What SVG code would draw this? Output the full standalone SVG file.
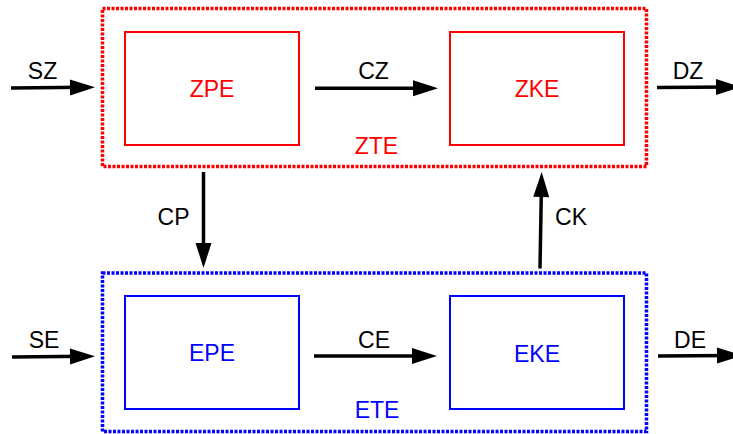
<svg xmlns="http://www.w3.org/2000/svg" width="733" height="434" viewBox="0 0 733 434">
<style>
text{font-family:"Liberation Sans",Arial,sans-serif;font-size:23px;text-anchor:middle}
.lbl{fill:#000}
.red{fill:#ff0000}
.blue{fill:#0000ff}
.rbox{fill:none;stroke:#ff0000;stroke-width:2}
.bbox{fill:none;stroke:#0000ff;stroke-width:2}
.rgrp{fill:none;stroke:#ff0000;stroke-width:3.5;stroke-dasharray:3 1.5}
.bgrp{fill:none;stroke:#0000ff;stroke-width:3.5;stroke-dasharray:3 1.5}
.conn{fill:none;stroke:#000;stroke-width:3.5}
</style>
<defs>
<marker id="ah" markerUnits="userSpaceOnUse" markerWidth="26" markerHeight="16" refX="15" refY="8" orient="auto" overflow="visible">
<path d="M0,0 L25,8 L0,16 z" fill="#000"/>
</marker>
</defs>
<g id="ZTE">
<rect class="rgrp" x="102.5" y="8.5" width="544" height="158"/>
<text class="red" x="376.5" y="153.5">ZTE</text>
</g>
<g id="ETE">
<rect class="bgrp" x="102.5" y="273" width="544" height="158.5"/>
<text class="blue" x="377" y="418">ETE</text>
</g>
<g id="ZPE">
<rect class="rbox" x="125" y="32" width="174" height="113"/>
<text class="red" x="212" y="96.5">ZPE</text>
</g>
<g id="ZKE">
<rect class="rbox" x="450" y="32" width="174" height="113"/>
<text class="red" x="537" y="96.5">ZKE</text>
</g>
<g id="EPE">
<rect class="bbox" x="125" y="296" width="174" height="113"/>
<text class="blue" x="212" y="361">EPE</text>
</g>
<g id="EKE">
<rect class="bbox" x="450" y="296" width="174" height="113"/>
<text class="blue" x="537" y="361.5">EKE</text>
</g>
<g id="connectors">
<line class="conn" x1="11" y1="88" x2="85" y2="87.3" marker-end="url(#ah)"/>
<text class="lbl" x="42.5" y="79">SZ</text>
<line class="conn" x1="315" y1="88.3" x2="428" y2="88.3" marker-end="url(#ah)"/>
<text class="lbl" x="373.5" y="79">CZ</text>
<line class="conn" x1="657" y1="87.5" x2="731" y2="87" marker-end="url(#ah)"/>
<text class="lbl" x="688" y="79">DZ</text>
<line class="conn" x1="203.5" y1="172" x2="203.5" y2="258" marker-end="url(#ah)"/>
<text class="lbl" x="173.5" y="225">CP</text>
<line class="conn" x1="540" y1="268.5" x2="541.5" y2="182" marker-end="url(#ah)"/>
<text class="lbl" x="571" y="225">CK</text>
<line class="conn" x1="12" y1="357" x2="85" y2="356.3" marker-end="url(#ah)"/>
<text class="lbl" x="44" y="348">SE</text>
<line class="conn" x1="314" y1="356" x2="427" y2="356" marker-end="url(#ah)"/>
<text class="lbl" x="374" y="348">CE</text>
<line class="conn" x1="658" y1="356" x2="732" y2="355.5" marker-end="url(#ah)"/>
<text class="lbl" x="690" y="348">DE</text>
</g>
</svg>
